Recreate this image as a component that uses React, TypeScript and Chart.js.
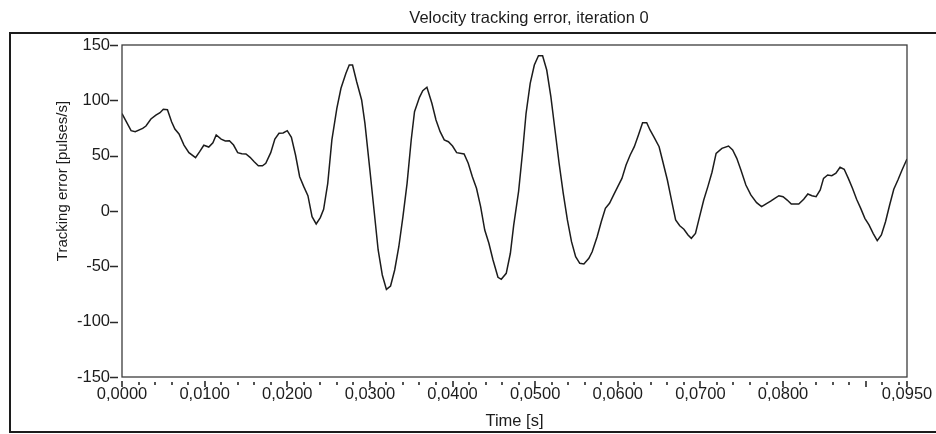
import React, { useEffect, useRef } from "react";
import { Chart, registerables } from "chart.js";

Chart.register(...registerables);

const TITLE = "Velocity tracking error, iteration 0";
const X_TITLE = "Time [s]";
const Y_TITLE = "Tracking error [pulses/s]";

const TIME = [
  0.0000, 0.0011, 0.0016, 0.0025, 0.0029, 0.0035, 0.0041, 0.0046, 0.0050, 0.0055,
  0.0060, 0.0064, 0.0069, 0.0075, 0.0081, 0.0089, 0.0094, 0.0099, 0.0105, 0.0110,
  0.0114, 0.0120, 0.0125, 0.0130, 0.0135, 0.0140, 0.0145, 0.0150, 0.0155, 0.0160,
  0.0165, 0.0170, 0.0174, 0.0180, 0.0185, 0.0190, 0.0195, 0.0200, 0.0205, 0.0210,
  0.0215, 0.0220, 0.0225, 0.0230, 0.0235, 0.0240, 0.0244, 0.0249, 0.0254, 0.0260,
  0.0265, 0.0271, 0.0275, 0.0279, 0.0284, 0.0290, 0.0294, 0.0300, 0.0305, 0.0310,
  0.0315, 0.0320, 0.0325, 0.0330, 0.0335, 0.0340, 0.0345, 0.0350, 0.0354, 0.0360,
  0.0364, 0.0369, 0.0375, 0.0380, 0.0385, 0.0390, 0.0395, 0.0400, 0.0405, 0.0414,
  0.0419, 0.0424, 0.0429, 0.0434, 0.0439, 0.0444, 0.0449, 0.0455, 0.0459, 0.0465,
  0.0470, 0.0474, 0.0480, 0.0485, 0.0489, 0.0494, 0.0499, 0.0504, 0.0509, 0.0514,
  0.0519, 0.0524, 0.0529, 0.0534, 0.0539, 0.0544, 0.0549, 0.0554, 0.0559, 0.0565,
  0.0569, 0.0575, 0.0580, 0.0585, 0.0590, 0.0595, 0.0600, 0.0605, 0.0610, 0.0615,
  0.0620, 0.0625, 0.0630, 0.0635, 0.0639, 0.0644, 0.0650, 0.0654, 0.0660, 0.0665,
  0.0670, 0.0675, 0.0680, 0.0685, 0.0689, 0.0694, 0.0699, 0.0704, 0.0709, 0.0714,
  0.0719, 0.0726, 0.0734, 0.0739, 0.0744, 0.0749, 0.0755, 0.0761, 0.0768, 0.0774,
  0.0779, 0.0785, 0.0790, 0.0795, 0.0800, 0.0805, 0.0810, 0.0819, 0.0825, 0.0830,
  0.0835, 0.0840, 0.0845, 0.0849, 0.0854, 0.0859, 0.0864, 0.0869, 0.0874, 0.0879,
  0.0884, 0.0889, 0.0894, 0.0899, 0.0904, 0.0909, 0.0914, 0.0919, 0.0924, 0.0929,
  0.0934, 0.0939, 0.0944, 0.0950,
];

const ERROR = [
  88.0, 72.6, 71.7, 74.7, 76.8, 83.1, 86.7, 88.8, 91.9, 91.5,
  80.7, 74.0, 69.6, 59.6, 52.7, 48.2, 53.6, 59.4, 57.8, 61.7,
  68.7, 65.0, 63.3, 63.5, 59.6, 52.7, 51.8, 51.5, 48.5, 44.5,
  40.9, 40.9, 43.1, 52.7, 65.0, 70.2, 70.5, 72.6, 66.6, 50.6,
  31.0, 22.0, 13.8, -5.1, -11.7, -6.0, 1.5, 25.0, 64.2, 92.8,
  110.9, 124.4, 131.9, 131.9, 116.8, 100.3, 79.2, 37.0, 0.9, -35.2,
  -57.8, -70.8, -67.8, -53.3, -32.3, -5.1, 25.0, 64.2, 89.7, 102.7,
  108.7, 111.8, 97.3, 82.2, 71.7, 64.2, 62.6, 58.7, 52.7, 51.5,
  43.1, 31.0, 20.5, 3.9, -17.2, -29.2, -44.3, -59.9, -61.7, -56.3,
  -38.2, -13.0, 18.0, 55.1, 88.3, 115.4, 131.9, 140.3, 140.3, 127.4,
  103.3, 73.2, 43.1, 16.0, -8.1, -27.7, -41.3, -47.3, -47.9, -42.7,
  -36.8, -23.2, -9.7, 2.4, 7.0, 14.5, 22.0, 29.5, 41.6, 50.6,
  58.1, 68.7, 79.8, 79.8, 73.2, 66.6, 58.1, 46.1, 28.0, 9.9,
  -8.1, -13.3, -16.5, -21.7, -24.7, -20.2, -5.1, 9.9, 22.0, 35.0,
  52.1, 56.6, 58.7, 55.1, 47.6, 37.0, 23.5, 14.5, 7.5, 3.9,
  6.3, 9.0, 11.5, 13.8, 12.9, 9.9, 6.3, 6.3, 10.6, 15.4,
  13.8, 12.9, 19.0, 29.5, 32.5, 31.9, 34.1, 39.5, 37.7, 29.5,
  20.5, 10.6, 2.4, -6.6, -12.6, -20.2, -26.8, -21.7, -9.7, 5.4,
  19.6, 28.0, 37.0, 47.0,
];

const X_MAJOR = [0, 0.01, 0.02, 0.03, 0.04, 0.05, 0.06, 0.07, 0.08, 0.09, 0.095];
const X_MAJOR_LABELS = [
  "0,0000", "0,0100", "0,0200", "0,0300", "0,0400", "0,0500",
  "0,0600", "0,0700", "0,0800", "", "0,0950",
];
const X_MINOR = [
  0.002, 0.004, 0.006, 0.008, 0.012, 0.014, 0.016, 0.018, 0.022, 0.024, 0.026, 0.028,
  0.032, 0.034, 0.036, 0.038, 0.042, 0.044, 0.046, 0.048, 0.052, 0.054, 0.056, 0.058,
  0.062, 0.064, 0.066, 0.068, 0.072, 0.074, 0.076, 0.078, 0.082, 0.084, 0.086, 0.088,
  0.092, 0.094,
];
const Y_TICKS = [-150, -100, -50, 0, 50, 100, 150];
const Y_TICK_LABELS = ["-150", "-100", "-50", "0", "50", "100", "150"];

const FONT = "'Liberation Sans', Arial, sans-serif";
const INK = "#1c1c1c";

const decor = {
  id: "decor",
  afterDraw(chart: any) {
    const { ctx, chartArea: a, scales } = chart;
    const xs = scales.x;
    const ys = scales.y;
    ctx.save();
    // plot border
    ctx.strokeStyle = "#3c3c3c";
    ctx.lineWidth = 1.3;
    ctx.strokeRect(a.left, a.top, a.right - a.left, a.bottom - a.top);
    // outer frame
    ctx.strokeStyle = INK;
    ctx.lineWidth = 2;
    ctx.strokeRect(10, 33, 960, 399);
    // y tick dashes
    ctx.strokeStyle = "#2a2a2a";
    ctx.lineWidth = 1.6;
    ctx.beginPath();
    for (const v of Y_TICKS) {
      const py = Math.round(ys.getPixelForValue(v)) + 0.5;
      ctx.moveTo(a.left - 12, py);
      ctx.lineTo(a.left - 4, py);
    }
    // x major ticks
    for (const v of X_MAJOR) {
      const px = Math.round(xs.getPixelForValue(v));
      ctx.moveTo(px, a.bottom + 4);
      ctx.lineTo(px, a.bottom + 10);
    }
    // x minor ticks
    for (const v of X_MINOR) {
      const px = Math.round(xs.getPixelForValue(v));
      ctx.moveTo(px, a.bottom + 5);
      ctx.lineTo(px, a.bottom + 8);
    }
    ctx.stroke();
    // texts
    ctx.fillStyle = INK;
    ctx.textAlign = "center";
    ctx.textBaseline = "alphabetic";
    ctx.font = `16.5px ${FONT}`;
    ctx.fillText(TITLE, 529, 23);
    ctx.fillText(X_TITLE, (a.left + a.right) / 2, 426);
    ctx.translate(67, 181);
    ctx.rotate(-Math.PI / 2);
    ctx.font = `15px ${FONT}`;
    ctx.fillText(Y_TITLE, 0, 0);
    ctx.restore();
  },
};

export default function App() {
  const ref = useRef<HTMLCanvasElement>(null);
  useEffect(() => {
    const points = TIME.map((t, i) => ({ x: t, y: ERROR[i] }));
    const chart = new Chart(ref.current as HTMLCanvasElement, {
      type: "line",
      data: {
        datasets: [
          {
            data: points,
            borderColor: INK,
            borderWidth: 1.5,
            pointRadius: 0,
            tension: 0,
            fill: false,
          },
        ],
      },
      options: {
        responsive: false,
        animation: false,
        devicePixelRatio: 1,
        layout: { padding: { left: 10, top: 45, right: 29, bottom: 0 } },
        plugins: {
          legend: { display: false },
          tooltip: { enabled: false },
          title: { display: false },
        },
        scales: {
          x: {
            type: "linear",
            min: 0,
            max: 0.095,
            grid: { display: false, drawTicks: false },
            border: { display: false },
            afterBuildTicks: (s: any) => {
              s.ticks = X_MAJOR.map((v) => ({ value: v }));
            },
            afterFit: (s: any) => {
              s.height = 57;
              s.paddingLeft = 0;
              s.paddingRight = 0;
            },
            ticks: {
              autoSkip: false,
              maxRotation: 0,
              minRotation: 0,
              padding: 8,
              color: INK,
              font: { family: FONT, size: 16.5 },
              callback: (_v: any, i: number) => X_MAJOR_LABELS[i] ?? "",
            },
          },
          y: {
            type: "linear",
            min: -150,
            max: 150,
            grid: { display: false, drawTicks: false },
            border: { display: false },
            afterBuildTicks: (s: any) => {
              s.ticks = Y_TICKS.map((v) => ({ value: v }));
            },
            afterFit: (s: any) => {
              s.width = 112;
              s.paddingTop = 0;
              s.paddingBottom = 0;
            },
            ticks: {
              padding: 12,
              color: INK,
              font: { family: FONT, size: 16.5 },
              callback: (_v: any, i: number) => Y_TICK_LABELS[i] ?? "",
            },
          },
        },
      },
      plugins: [decor],
    } as any);
    return () => chart.destroy();
  }, []);
  return (
    <div style={{ position: "fixed", left: 0, top: 0, width: 936, height: 434, background: "#fff" }}>
      <canvas ref={ref} width={936} height={434} style={{ display: "block" }} />
    </div>
  );
}
